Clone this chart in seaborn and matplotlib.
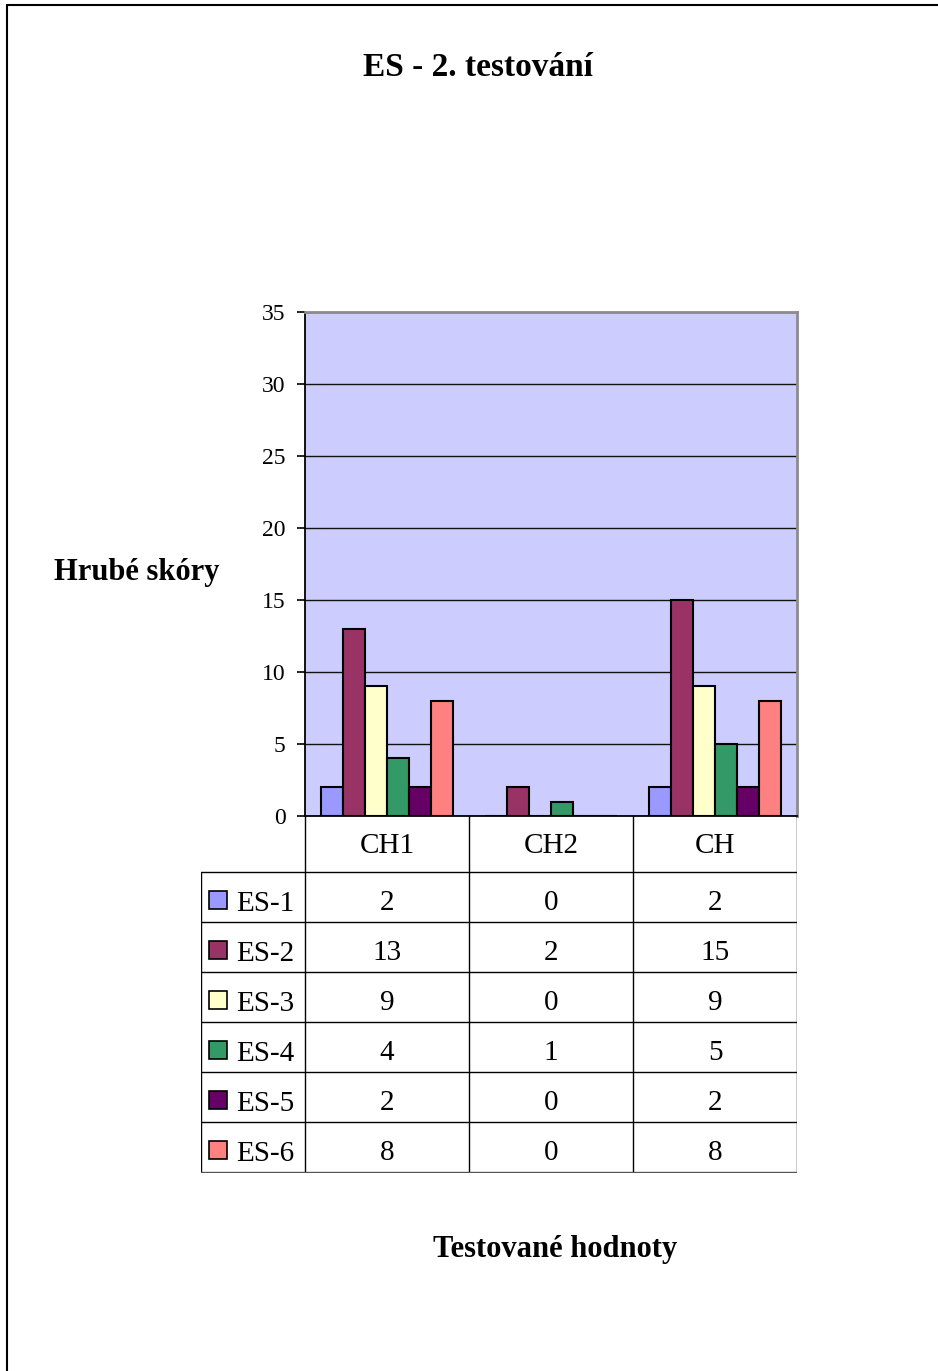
import numpy as np
import pandas as pd
import matplotlib
matplotlib.use("Agg")
import matplotlib.pyplot as plt
from matplotlib.patches import Rectangle
import seaborn as sns

## Data
categories = ["CH1", "CH2", "CH"]
series = ["ES-1", "ES-2", "ES-3", "ES-4", "ES-5", "ES-6"]
es1 = [2, 0, 2]
es2 = [13, 2, 15]
es3 = [9, 0, 9]
es4 = [4, 1, 5]
es5 = [2, 0, 2]
es6 = [8, 0, 8]
colors = ["#9999FF", "#993366", "#FFFFCC", "#339966", "#660066", "#FF8080"]
y_ticks = [0, 5, 10, 15, 20, 25, 30, 35]

values = [es1, es2, es3, es4, es5, es6]
df = pd.DataFrame({
    "kategorie": np.tile(categories, len(series)),
    "serie": np.repeat(series, len(categories)),
    "hodnota": np.concatenate(values),
})

sns.set_style("white")
plt.rcParams["font.family"] = ["Liberation Serif", "DejaVu Serif"]
plt.rcParams["text.color"] = "black"
plt.rcParams["ytick.color"] = "black"
plt.rcParams["ytick.labelcolor"] = "black"

W, H = 938, 1371
fig = plt.figure(figsize=(W / 100, H / 100), dpi=100)

def px_rect(x0, y0, x1, y1):
    # pixel box -> figure fraction
    return [x0 / W, 1 - y1 / H, (x1 - x0) / W, (y1 - y0) / H]

# ramecek stranky
fig.add_artist(plt.Line2D([7 / W, 7 / W], [0, 1 - 5 / H], color="black", lw=1.5))
fig.add_artist(plt.Line2D([7 / W, 1], [1 - 5 / H, 1 - 5 / H], color="black", lw=1.5))

# graf
ax = fig.add_axes(px_rect(305, 312, 797, 816))
ax.set_facecolor("#CCCCFF")
sns.barplot(data=df, x="kategorie", y="hodnota", hue="serie", palette=colors,
            width=0.8, saturation=1, edgecolor="black", linewidth=1.5,
            legend=False, ax=ax)
ax.set_ylim(0, 35)
ax.set_yticks(y_ticks)
ax.set_yticklabels([str(t) for t in y_ticks], fontsize=17)
ax.yaxis.grid(True, color="#111111", lw=1)
ax.set_axisbelow(True)
ax.tick_params(axis="y", left=True, length=6, width=1.2, color="black", pad=8)
ax.set_xticks([])
ax.set_xlabel("")
ax.set_ylabel("")
ax.set_xlim(-0.5, 2.5)
for s in ["top", "right"]:
    ax.spines[s].set_color("#8c8c8c")
    ax.spines[s].set_linewidth(2)
ax.spines["left"].set_color("black")
ax.spines["left"].set_linewidth(1.3)
ax.spines["bottom"].set_color("black")
ax.spines["bottom"].set_linewidth(1.3)

# datova tabulka
tx = fig.add_axes(px_rect(201, 816, 797, 1173))
tx.set_xlim(201, 797)
tx.set_ylim(1173, 816)
tx.axis("off")
col_x = [305, 469, 633, 797]
row_y = [872 + 50 * i for i in range(len(series) + 1)]
lc = "black"
for x in col_x:
    tx.plot([x, x], [816, row_y[-1]], color=lc, lw=1)
tx.plot([201, 201], [row_y[0], row_y[-1]], color=lc, lw=1)
for y in row_y:
    tx.plot([201, 797], [y, y], color=lc if y != row_y[-1] else "#555555", lw=1)
for j, c in enumerate(categories):
    tx.text((col_x[j] + col_x[j + 1]) / 2, 846, c, ha="center", va="center", fontsize=21)
for i, s in enumerate(series):
    yc = (row_y[i] + row_y[i + 1]) / 2
    tx.add_patch(Rectangle((209, yc - 6), 18, 18, facecolor=colors[i],
                           edgecolor="black", lw=1.2))
    tx.text(236, yc + 7, s, ha="left", va="center", fontsize=21)
    for j in range(len(categories)):
        tx.text((col_x[j] + col_x[j + 1]) / 2, yc + 6, str(values[i][j]),
                ha="center", va="center", fontsize=21)

# popisky
fig.text(478 / W, 1 - 68 / H, "ES - 2. testování", ha="center", va="center",
         fontsize=24, fontweight="bold")
fig.text(137 / W, 1 - 572 / H, "Hrubé skóry", ha="center", va="center",
         fontsize=22, fontweight="bold")
fig.text(555 / W, 1 - 1250 / H, "Testované hodnoty", ha="center", va="center",
         fontsize=22, fontweight="bold")

fig.savefig("out.png", dpi=100)
